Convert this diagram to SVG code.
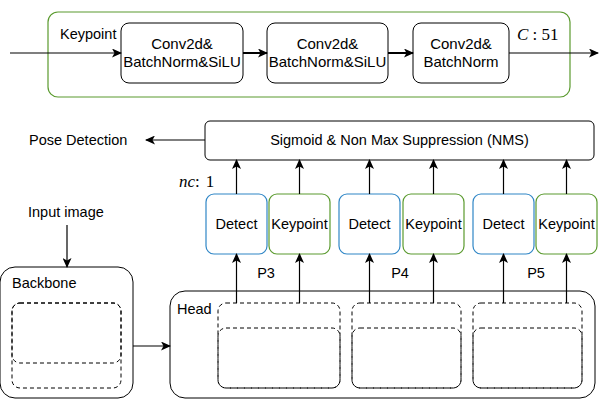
<svg xmlns="http://www.w3.org/2000/svg" width="600" height="400" viewBox="0 0 600 400">
<style>
text{font-family:"Liberation Sans",Arial,sans-serif;font-size:14.5px;fill:#000}
.c{text-anchor:middle}
.cv{font-size:15px}
.m{font-family:"Liberation Serif","DejaVu Serif",serif;font-size:17px}
.box{fill:#fff;stroke:#000;stroke-width:1}
.det{fill:#fff;stroke:#2f86c6;stroke-width:1.2}
.kp{fill:#fff;stroke:#5a9a2e;stroke-width:1.2}
.dash{fill:none;stroke:#000;stroke-width:1;stroke-dasharray:4 3}
.ln{fill:none;stroke:#000;stroke-width:1.2}
.thick{stroke-width:2}
</style>
<defs>
<marker id="ah" markerWidth="10" markerHeight="9" refX="9" refY="4.5" orient="auto" markerUnits="userSpaceOnUse">
<path d="M0,0 L10,4.5 L0,9 L2.5,4.5 z" fill="#000"/>
</marker>
</defs>
<g id="keypoint-module">
<rect x="48" y="12" width="522" height="85" rx="10" fill="#fff" stroke="#5a9a2e" stroke-width="1.2"/>
<text x="60" y="39">Keypoint</text>
<text class="m" x="517" y="40"><tspan font-style="italic">C</tspan> : 51</text>
</g>
<g id="conv1">
<rect class="box" x="121" y="23" width="122" height="60" rx="8"/>
<text class="c cv" x="182" y="49">Conv2d&amp;</text>
<text class="c cv" x="182" y="67">BatchNorm&amp;SiLU</text>
</g>
<g id="conv2">
<rect class="box" x="267" y="23" width="121" height="60" rx="8"/>
<text class="c cv" x="327.5" y="49">Conv2d&amp;</text>
<text class="c cv" x="327.5" y="67">BatchNorm&amp;SiLU</text>
</g>
<g id="conv3">
<rect class="box" x="413" y="23" width="96" height="60" rx="8"/>
<text class="c cv" x="461" y="49">Conv2d&amp;</text>
<text class="c cv" x="461" y="67">BatchNorm</text>
</g>
<g id="nms">
<rect class="box" x="205" y="121" width="389" height="39" rx="5"/>
<text class="c" x="399.5" y="145">Sigmoid &amp; Non Max Suppression (NMS)</text>
</g>
<g id="pose-label"><text x="29" y="145">Pose Detection</text></g>
<g id="nc-label"><text class="m" x="179" y="187"><tspan font-style="italic">nc</tspan>:<tspan dx="6">1</tspan></text></g>
<g id="input-label"><text x="28" y="217">Input image</text></g>
<g id="detect3"><rect class="det" x="206" y="194" width="61" height="60" rx="8"/><text class="c" x="236.5" y="229">Detect</text></g>
<g id="keypoint3"><rect class="kp" x="269" y="194" width="61" height="60" rx="8"/><text class="c" x="299.5" y="229">Keypoint</text></g>
<g id="detect4"><rect class="det" x="339" y="194" width="61" height="60" rx="8"/><text class="c" x="369.5" y="229">Detect</text></g>
<g id="keypoint4"><rect class="kp" x="403" y="194" width="61" height="60" rx="8"/><text class="c" x="433.5" y="229">Keypoint</text></g>
<g id="detect5"><rect class="det" x="473" y="194" width="61" height="60" rx="8"/><text class="c" x="503.5" y="229">Detect</text></g>
<g id="keypoint5"><rect class="kp" x="536" y="194" width="61" height="60" rx="8"/><text class="c" x="566.5" y="229">Keypoint</text></g>
<g id="p-labels">
<text class="c" x="266" y="278">P3</text>
<text class="c" x="400" y="278">P4</text>
<text class="c" x="536" y="278">P5</text>
</g>
<g id="backbone">
<rect class="box" x="0" y="267" width="133" height="131" rx="15"/>
<text x="12" y="288">Backbone</text>
<rect class="dash" x="12" y="303" width="109" height="85" rx="8"/>
<rect class="dash" x="12" y="303" width="109" height="60" rx="8"/>
</g>
<g id="head">
<rect class="box" x="170" y="291" width="425" height="107" rx="15"/>
<text x="177" y="314">Head</text>
<rect class="dash" x="218" y="303" width="122" height="85" rx="8"/>
<rect class="dash" x="218" y="328" width="122" height="60" rx="8"/>
<rect class="dash" x="352" y="303" width="109" height="85" rx="8"/>
<rect class="dash" x="352" y="328" width="109" height="60" rx="8"/>
<rect class="dash" x="473" y="303" width="109" height="85" rx="8"/>
<rect class="dash" x="473" y="328" width="109" height="60" rx="8"/>
</g>
<g id="connectors">
<line class="ln" x1="10" y1="53" x2="121" y2="53" marker-end="url(#ah)"/>
<line class="ln thick" x1="243" y1="53" x2="267" y2="53" marker-end="url(#ah)"/>
<line class="ln thick" x1="388" y1="53" x2="413" y2="53" marker-end="url(#ah)"/>
<line class="ln" x1="509" y1="53" x2="598" y2="53" marker-end="url(#ah)"/>
<line class="ln" x1="205" y1="140" x2="146" y2="140" marker-end="url(#ah)"/>
<line class="ln" x1="236.5" y1="194" x2="236.5" y2="160" marker-end="url(#ah)"/>
<line class="ln" x1="299.5" y1="194" x2="299.5" y2="160" marker-end="url(#ah)"/>
<line class="ln" x1="369.5" y1="194" x2="369.5" y2="160" marker-end="url(#ah)"/>
<line class="ln" x1="433.5" y1="194" x2="433.5" y2="160" marker-end="url(#ah)"/>
<line class="ln" x1="503.5" y1="194" x2="503.5" y2="160" marker-end="url(#ah)"/>
<line class="ln" x1="566.5" y1="194" x2="566.5" y2="160" marker-end="url(#ah)"/>
<line class="ln" x1="236.5" y1="303" x2="236.5" y2="254" marker-end="url(#ah)"/>
<line class="ln" x1="299.5" y1="303" x2="299.5" y2="254" marker-end="url(#ah)"/>
<line class="ln" x1="369.5" y1="303" x2="369.5" y2="254" marker-end="url(#ah)"/>
<line class="ln" x1="433.5" y1="303" x2="433.5" y2="254" marker-end="url(#ah)"/>
<line class="ln" x1="503.5" y1="303" x2="503.5" y2="254" marker-end="url(#ah)"/>
<line class="ln" x1="566.5" y1="303" x2="566.5" y2="254" marker-end="url(#ah)"/>
<line class="ln" x1="67" y1="225" x2="67" y2="267" marker-end="url(#ah)"/>
<line class="ln" x1="133" y1="346" x2="170" y2="346" marker-end="url(#ah)"/>
</g>
</svg>
